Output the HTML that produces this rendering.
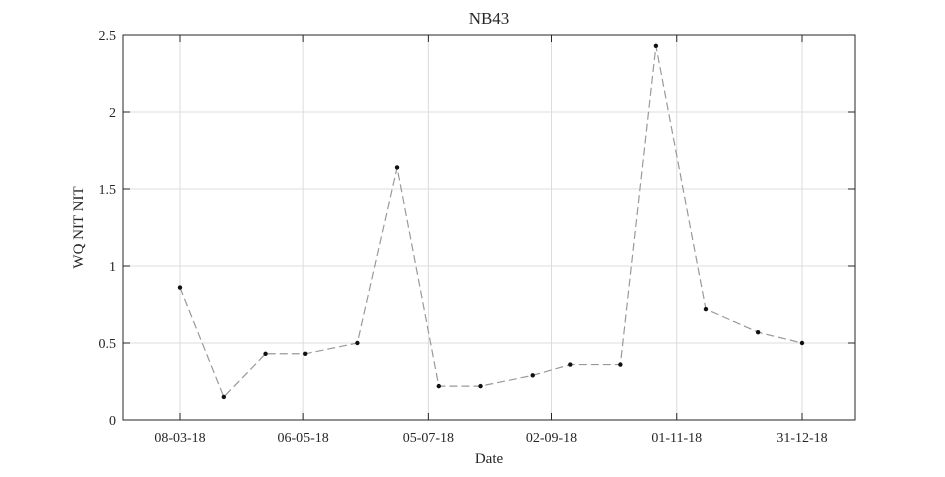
<!DOCTYPE html>
<html><head><meta charset="utf-8"><style>
body{margin:0;background:#fff;width:945px;height:472px;overflow:hidden}
text{font-family:"Liberation Serif",serif;fill:#262626}
</style></head><body>
<svg id="chart" width="945" height="472" xmlns="http://www.w3.org/2000/svg"></svg>
<script>
const dayOffsets=[0,21,41,60,85,104,124,144,169,187,211,228,252,277,298];
const values=[0.86,0.15,0.43,0.43,0.50,1.64,0.22,0.22,0.29,0.36,0.36,2.43,0.72,0.57,0.50];
const xTickDays=[0,59,119,178,238,298];
const xTickLabels=['08-03-18','06-05-18','05-07-18','02-09-18','01-11-18','31-12-18'];
const yTicks=[0,0.5,1,1.5,2,2.5];
const yTickLabels=['0','0.5','1','1.5','2','2.5'];
const L=123,R=855,T=35,B=420;
const x0=-27.3,x1=323.4;
const X=d=>L+(d-x0)/(x1-x0)*(R-L);
const Y=v=>B-v/2.5*(B-T);
const svg=document.getElementById('chart');
const NS='http://www.w3.org/2000/svg';
function mk(tag,attrs,parent){const e=document.createElementNS(NS,tag);for(const k in attrs)e.setAttribute(k,attrs[k]);(parent||svg).appendChild(e);return e;}
let e;
e=mk('rect',{x:L,y:T,width:R-L,height:B-T,fill:'#fff'});


xTickDays.forEach((d,i)=>{
 e=mk('line',{x1:X(d),x2:X(d),y1:T,y2:B,stroke:'#dcdcdc','stroke-width':1});
 
 
 mk('line',{x1:X(d),x2:X(d),y1:B,y2:B-7,stroke:'#262626'});
 mk('line',{x1:X(d),x2:X(d),y1:T,y2:T+7,stroke:'#262626'});
 e=mk('text',{x:X(d),y:B+22,'text-anchor':'middle','font-size':14});
 e.textContent=xTickLabels[i];
 
 
});
yTicks.forEach((v,i)=>{
 e=mk('line',{x1:L,x2:R,y1:Y(v),y2:Y(v),stroke:'#dcdcdc','stroke-width':1});
 
 
 mk('line',{x1:L,x2:L+7,y1:Y(v),y2:Y(v),stroke:'#262626'});
 mk('line',{x1:R,x2:R-7,y1:Y(v),y2:Y(v),stroke:'#262626'});
 e=mk('text',{x:L-7,y:Y(v)+5,'text-anchor':'end','font-size':14});
 e.textContent=yTickLabels[i];
 
 
});
e=mk('rect',{x:L,y:T,width:R-L,height:B-T,fill:'none',stroke:'#262626','stroke-width':1});


e=mk('polyline',{points:dayOffsets.map((d,i)=>X(d)+','+Y(values[i])).join(' '),fill:'none',stroke:'#999','stroke-width':1.2,'stroke-dasharray':'8,4'});


dayOffsets.forEach((d,i)=>{
 e=mk('circle',{cx:X(d),cy:Y(values[i]),r:2.2,fill:'#111'});
 
 
});
e=mk('text',{x:(L+R)/2,y:24,'text-anchor':'middle','font-size':17});
e.textContent='NB43';


e=mk('text',{x:(L+R)/2,y:463,'text-anchor':'middle','font-size':15});
e.textContent='Date';


e=mk('text',{x:0,y:0,'text-anchor':'middle','font-size':15,transform:'translate(83,'+((T+B)/2)+') rotate(-90)'});
e.textContent='WQ NIT NIT';


</script>
</body></html>
